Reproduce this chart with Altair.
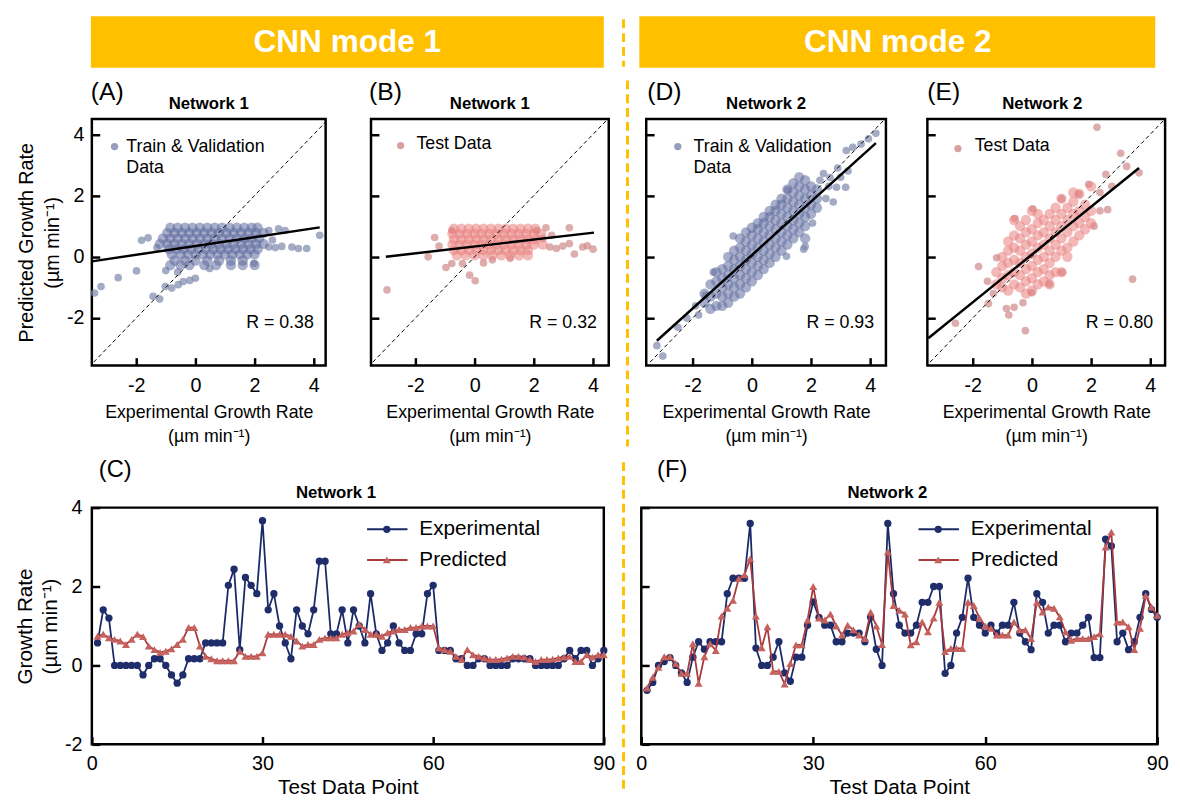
import altair as alt
import pandas as pd

FONT = "Liberation Sans"
NAVY = "#1f2d6b"
NAVY_LINE = "#1b2a66"
RED_FILL = "#c6625e"
RED_LINE = "#a8393c"
BLUE_CORE = "#5f6b9e"
BLUE_OUT = "#7d87ad"
PINK_CORE = "#e8807e"
PINK_OUT = "#cf8a8a"
GOLD = "#FFC000"

# ---------------- time-series data (panels C and F) ----------------
TEST_POINT = list(range(1, 91))
C_EXPERIMENTAL = [0.57, 1.41, 1.2, 0, 0, 0, 0, 0, -0.24, 0,
                  0.17, 0.17, 0, -0.24, -0.45, -0.24, 0.17, 0.17, 0.17, 0.57,
                  0.57, 0.57, 0.57, 2.03, 2.44, 0.4, 2.23, 2.03, 1.82, 3.67,
                  1.41, 1.82, 1.0, 0.57, 0.17, 1.41, 1.0, 0.8, 1.41, 2.64,
                  2.64, 0.8, 0.8, 1.41, 0.57, 1.41, 1.0, 0.57, 1.82, 0.8,
                  0.38, 0.57, 1.0, 0.57, 0.38, 0.38, 0.8, 0.8, 1.82, 2.03,
                  0.38, 0.38, 0.38, 0.17, 0.17, 0, 0, 0.17, 0.17, 0,
                  0, 0, 0, 0.17, 0.17, 0.17, 0.17, 0, 0, 0,
                  0, 0, 0.17, 0.38, 0.17, 0.38, 0.38, 0, 0.17, 0.38]
C_PREDICTED = [0.74, 0.79, 0.7, 0.66, 0.62, 0.53, 0.66, 0.79, 0.73, 0.49,
               0.4, 0.33, 0.36, 0.42, 0.53, 0.66, 0.96, 0.96, 0.49, 0.23,
               0.17, 0.12, 0.12, 0.12, 0.12, 0.36, 0.23, 0.23, 0.23, 0.32,
               0.79, 0.79, 0.79, 0.79, 0.74, 0.62, 0.49, 0.53, 0.53, 0.66,
               0.7, 0.7, 0.7, 0.79, 0.83, 0.87, 1.04, 0.91, 0.79, 0.79,
               0.74, 0.83, 0.87, 0.91, 0.91, 0.96, 0.96, 1.0, 1.0, 1.0,
               0.44, 0.4, 0.36, 0.23, 0.15, 0.4, 0.27, 0.23, 0.19, 0.15,
               0.15, 0.16, 0.19, 0.23, 0.23, 0.21, 0.15, 0.1, 0.15, 0.15,
               0.16, 0.19, 0.21, 0.23, 0.1, 0.1, 0.27, 0.21, 0.27, 0.27]
F_EXPERIMENTAL = [-0.63, -0.43, 0, 0.1, 0.2, 0, -0.19, -0.43, 0.21, 0.6,
                  0.41, 0.6, 0.6, 0.6, 1.82, 2.21, 2.21, 2.21, 3.6, 0.44,
                  0, 0, 0.21, 0.6, -0.19, -0.4, 0.21, 0.21, 1.02, 1.61,
                  1.22, 1.02, 1.02, 0.6, 0.6, 0.82, 0.82, 0.82, 0.6, 1.22,
                  0.41, 0, 3.6, 1.82, 1.02, 0.82, 0.82, 1.02, 1.6, 1.6,
                  2.0, 2.0, -0.2, 0, 0.82, 1.22, 2.21, 1.22, 1.02, 0.82,
                  1.02, 0.82, 1.02, 1.02, 1.6, 0.82, 0.6, 0.4, 1.82, 1.6,
                  0.82, 1.02, 1.02, 0.6, 0.82, 0.82, 1.02, 1.22, 0.2, 0.2,
                  3.2, 3.03, 0.6, 0.82, 0.4, 0.6, 1.22, 1.82, 1.42, 1.22]
F_PREDICTED = [-0.57, -0.3, -0.05, 0.22, 0.22, 0.05, -0.2, -0.2, 0.55, -0.45,
               0.22, 0.55, 0.38, 1.25, 1.45, 1.65, 2.2, 2.3, 2.7, 1.25,
               0.45, 0.98, -0.15, -0.15, -0.47, 0.05, 0.52, 0.52, 1.15, 2.0,
               1.2, 1.15, 1.3, 1.0, 0.77, 1.02, 0.9, 0.77, 0.68, 1.35,
               1.0, 0.53, 2.88, 1.52, 1.4, 1.3, 0.52, 0.6, 1.1, 0.85,
               1.2, 1.6, 0.35, 0.43, 0.43, 0.43, 1.6, 1.52, 1.2, 1.0,
               0.94, 0.77, 0.77, 0.77, 1.1, 0.9, 0.9, 0.68, 1.6, 1.35,
               1.48, 1.45, 1.23, 0.85, 0.64, 0.68, 0.68, 0.68, 0.73, 0.8,
               3.0, 3.38, 1.1, 1.1, 0.98, 0.4, 0.94, 1.77, 1.48, 1.27]

# ---------------- scatter data ----------------
# Panel A (Network 1, train & validation): dense core rows + scattered points
A_ROW_Y = [0.95, 0.78, 0.6, 0.42, 0.25, 0.08, -0.12, -0.27]
A_ROW_X = [
    [-0.85, -0.6, -0.35, -0.1, 0.15, 0.4, 0.65, 0.9, 1.15, 1.4, 1.65, 1.9, 2.1],
    [-0.95, -0.7, -0.45, -0.2, 0.05, 0.3, 0.55, 0.8, 1.05, 1.3, 1.55, 1.8, 2.05, 2.3],
    [-1.1, -0.85, -0.6, -0.35, -0.1, 0.15, 0.4, 0.65, 0.9, 1.15, 1.4, 1.65, 1.9, 2.15],
    [-1.2, -0.95, -0.7, -0.45, -0.2, 0.05, 0.3, 0.55, 0.8, 1.05, 1.3, 1.55, 1.8, 2.05, 2.3],
    [-0.9, -0.65, -0.4, -0.15, 0.1, 0.35, 0.6, 0.85, 1.1, 1.35, 1.6, 1.85, 2.1],
    [-0.8, -0.5, -0.25, 0.0, 0.25, 0.5, 0.75, 1.0, 1.25, 1.5, 1.75, 2.0],
    [-0.7, -0.35, 0.0, 0.4, 0.8, 1.2, 1.6],
    [-0.85, -0.5, -0.2, 0.3, 0.7, 1.2, 1.6, 2.0],
]
A_OUT_X = [-3.41, -3.19, -2.61, -1.99, -1.82, -1.6, -1.43, -1.21, -1.02, -0.8, -0.58, -0.41,
           -0.19, 0.0, 0.48, 1.98, 2.48, 2.81, 3.03, 2.48, 2.7, 2.92, 3.26, 3.48, 3.76, 4.2,
           2.6, -1.3, -1.0, -0.6]
A_OUT_Y = [-1.18, -0.97, -0.68, -0.46, 0.54, 0.62, -1.29, -1.38, -0.97, -1.02, -0.91, -0.81,
           -0.77, -0.7, -0.38, -0.21, 0.86, 0.91, 0.86, 0.32, 0.3, 0.34, 0.32, 0.27, 0.27, 0.7,
           0.55, 0.3, -0.45, -0.5]

# Panel B (Network 1, test)
B_ROW_Y = [0.92, 0.75, 0.57, 0.4, 0.22, 0.05]
B_ROW_X = [
    [-0.7, -0.45, -0.2, 0.05, 0.3, 0.55, 0.8, 1.05, 1.3, 1.55, 1.8, 2.05],
    [-0.75, -0.5, -0.25, 0.0, 0.25, 0.5, 0.75, 1.0, 1.25, 1.5, 1.75, 2.0, 2.25],
    [-0.7, -0.45, -0.2, 0.05, 0.3, 0.55, 0.8, 1.05, 1.3, 1.55, 1.8, 2.05],
    [-0.75, -0.5, -0.25, 0.0, 0.25, 0.5, 0.75, 1.0, 1.25, 1.5, 1.75, 2.0, 2.3],
    [-0.7, -0.45, -0.2, 0.05, 0.3, 0.55, 0.8, 1.05, 1.3, 1.55, 1.8],
    [-0.6, -0.3, 0.0, 0.3, 0.6, 0.9, 1.2, 1.5, 1.8],
]
B_OUT_X = [-2.96, -1.57, -1.35, -0.97, -0.77, -0.77, -0.41, -0.17, 0.02, 0.3, 2.1, 2.41, 3.2,
           2.54, 2.76, 3.2, 3.37, 3.65, 3.81, 4.0, 2.98, 2.3, 2.6, -1.2, 0.6, 1.2]
B_OUT_Y = [-1.08, 0.0, 0.63, -0.35, -0.22, 0.86, -0.22, -0.6, -0.78, -0.2, 0.86, 0.95, 0.95,
           0.32, 0.27, 0.43, 0.09, 0.32, 0.36, 0.25, 0.35, 0.6, 0.7, 0.35, -0.1, -0.05]

# Panel D (Network 2, train & validation): columns of the diagonal band
D_COL_X = [-1.6, -1.4, -1.2, -1.0, -0.8, -0.6, -0.4, -0.2, 0.0, 0.2, 0.4, 0.6, 0.8, 1.0,
           1.2, 1.4, 1.6, 1.8, 2.0, 2.2]
D_COL_Y = [
    [-1.5, -1.2],
    [-1.7, -1.3, -0.9],
    [-1.6, -1.2, -0.8, -0.5],
    [-1.6, -1.3, -1.0, -0.7, -0.4],
    [-1.5, -1.2, -0.9, -0.6, -0.3, 0.0],
    [-1.3, -1.0, -0.7, -0.4, -0.1, 0.2],
    [-1.2, -0.9, -0.6, -0.3, 0.0, 0.3, 0.6],
    [-1.0, -0.7, -0.4, -0.1, 0.2, 0.5, 0.8],
    [-0.8, -0.5, -0.2, 0.1, 0.4, 0.7, 0.95],
    [-0.6, -0.3, 0.0, 0.3, 0.6, 0.9, 1.1],
    [-0.4, -0.1, 0.2, 0.5, 0.8, 1.1, 1.3],
    [-0.2, 0.1, 0.4, 0.7, 1.0, 1.3, 1.5],
    [0.0, 0.3, 0.6, 0.9, 1.2, 1.5, 1.7],
    [0.2, 0.5, 0.8, 1.1, 1.4, 1.7, 1.9],
    [0.4, 0.7, 1.0, 1.3, 1.6, 1.9, 2.2],
    [0.6, 0.9, 1.2, 1.5, 1.8, 2.1, 2.4],
    [0.8, 1.1, 1.4, 1.7, 2.0, 2.3, 2.6],
    [0.6, 1.0, 1.3, 1.6, 1.9, 2.2, 2.5],
    [1.4, 1.7, 2.0, 2.3],
    [1.6, 1.9, 2.2],
]
D_OUT_X = [-3.21, -3.01, -2.5, -2.2, -1.9, -1.8, -1.57, -0.63, 1.2, 1.8, 1.75, 1.17, 2.75,
           2.86, 3.17, 4.19, 3.94, 3.69, 3.41, 3.19, 2.42, 2.64, 3.25, 2.5, 2.3, 2.9, 2.6,
           3.0, 2.05, -1.3]
D_OUT_Y = [-2.9, -3.24, -2.3, -2.0, -1.6, -1.9, -1.26, 0.68, 2.18, 0.34, 0.25, 0.02, 1.79,
           2.27, 2.27, 4.03, 3.85, 3.68, 3.57, 3.47, 2.72, 2.59, 2.8, 1.9, 2.5, 2.9, 2.3,
           2.6, 1.1, -0.5]

# Panel E (Network 2, test)
E_COL_X = [-1.2, -1.0, -0.8, -0.6, -0.4, -0.2, 0.0, 0.2, 0.4, 0.6, 0.8, 1.0, 1.2, 1.4,
           1.6, 1.8, 2.0]
E_COL_Y = [
    [-0.5, -0.9],
    [-0.3, -0.7, -1.0, 0.0],
    [-0.6, -0.2, 0.2, -1.1, 0.5],
    [-0.9, -0.5, -0.1, 0.3, 0.7, 1.2],
    [-1.0, -0.6, -0.2, 0.2, 0.6, 1.0],
    [-0.8, -0.4, 0.0, 0.4, 0.8, -1.2, 1.2],
    [-0.7, -0.3, 0.1, 0.5, 0.9, 1.5, -1.1],
    [-0.5, -0.1, 0.3, 0.7, 1.1, -0.9, 1.4],
    [-0.4, 0.0, 0.4, 0.8, 1.2, -0.8],
    [-0.2, 0.2, 0.6, 1.0, 1.4, -0.6, -0.9],
    [0.0, 0.4, 0.8, 1.2, 1.6, -0.5],
    [0.2, 0.6, 1.0, 1.4, 1.9, -0.5],
    [0.3, 0.8, 1.2, 1.6, 0.0],
    [0.5, 1.0, 1.4, 1.8, 2.1],
    [0.7, 1.1, 1.5, 2.05],
    [0.9, 1.3, 1.7],
    [1.1, 1.5, 2.3],
]
E_OUT_X = [2.2, 3.0, 3.2, 3.62, 3.4, -0.22, -0.78, -0.86, -0.6, -1.8, -1.19, -0.58, 0.03,
           1.0, 1.59, 1.92, 2.5, 2.56, 2.3, -2.58, 1.03, 0.59, 0.0, -1.47, -1.5, 2.3, 2.7,
           2.1, -0.3, -1.3]
E_OUT_Y = [4.23, 3.38, 2.95, 2.74, -0.73, -2.41, -1.9, -1.69, -1.65, -0.32, -0.03, 1.25, 1.57,
           1.89, 2.05, 2.37, 2.69, 1.54, 1.5, -2.17, -0.51, -0.89, -1.17, -1.53, -0.8, 2.1, 2.3,
           1.0, -1.5, -1.2]

# regression lines (end points) and the y = x guide
A_FIT_X, A_FIT_Y = [-3.5, 4.2], [-0.15, 0.96]
B_FIT_X, B_FIT_Y = [-3.0, 4.03], [0.0, 0.79]
D_FIT_X, D_FIT_Y = [-3.21, 4.19], [-2.74, 3.71]
E_FIT_X, E_FIT_Y = [-3.5, 3.62], [-2.66, 2.9]
DIAG = [-3.6, 4.6]

TOP_TICKS = [-2, 0, 2, 4]
TOP_YDOM = [-3.55, 4.5]
TOP_H = 250
BOT_H = 240
UNIT = "(µm min⁻¹)"


def rows_df(row_y, row_x):
    xs, ys = [], []
    for yv, xl in zip(row_y, row_x):
        for xv in xl:
            xs.append(xv)
            ys.append(yv)
    return pd.DataFrame({"x": xs, "y": ys})


def cols_df(col_x, col_y):
    xs, ys = [], []
    for xv, yl in zip(col_x, col_y):
        for yv in yl:
            xs.append(xv)
            ys.append(yv)
    return pd.DataFrame({"x": xs, "y": ys})


ONE = pd.DataFrame({"v": [0]})


def txt(x, y, s, size, weight="normal", align="left", color="black"):
    return alt.Chart(ONE).mark_text(
        align=align, baseline="middle", fontSize=size, fontWeight=weight, color=color, font=FONT
    ).encode(x=alt.value(x), y=alt.value(y), text=alt.value(s))


def pin(x1, y1, x2, y2):
    # invisible box that fixes the layout extent of a panel
    return alt.Chart(ONE).mark_rule(opacity=0, strokeWidth=0.01).encode(
        x=alt.value(x1), x2=alt.value(x2), y=alt.value(y1), y2=alt.value(y2))


def divider(x, y1, y2):
    return alt.Chart(ONE).mark_rule(color=GOLD, strokeWidth=3, strokeDash=[9, 5]).encode(
        x=alt.value(x), y=alt.value(y1), y2=alt.value(y2))


def axis(values, title, show_labels, label_pad, title_size, title_pad, title_lh):
    kw = dict(values=values, offset=-8, tickSize=8, tickWidth=2.5, tickColor="black",
              domain=False, grid=False)
    if show_labels:
        kw.update(labelFontSize=20, labelPadding=label_pad, labelColor="black", labelFont=FONT,
                  labelExpr="'' + datum.value", labelFlush=False, labelOverlap=False)
    else:
        kw.update(labels=False)
    if title is None:
        kw.update(title=None)
    else:
        kw.update(title=title, titleFontSize=title_size, titleFontWeight="normal",
                  titleColor="black", titleFont=FONT, titlePadding=title_pad,
                  titleLineHeight=title_lh)
    return alt.Axis(**kw)


def scatter_panel(core, outl, core_color, out_color, xdom, width, fit_x, fit_y, legend,
                  dot_xy, text_x, text_y, r_text, title, title_dx, letter, letter_x, show_y,
                  box, extra=()):
    xs = alt.Scale(domain=xdom, nice=False, zero=False)
    ys = alt.Scale(domain=TOP_YDOM, nice=False, zero=False)
    xa = axis(TOP_TICKS, ["Experimental Growth Rate", UNIT], True, 10, 18, 9, 24)
    if show_y:
        ya = axis(TOP_TICKS, ["Predicted Growth Rate", UNIT], True, 8, 20, 4, 26)
    else:
        ya = axis(TOP_TICKS, None, False, 0, 0, 0, 0)
    X = alt.X("x:Q", scale=xs, axis=xa)
    Y = alt.Y("y:Q", scale=ys, axis=ya)
    p_out = alt.Chart(outl).mark_circle(size=60, opacity=0.7, color=out_color).encode(x=X, y=Y)
    p_core = alt.Chart(core).mark_circle(size=110, opacity=0.55, color=core_color).encode(x=X, y=Y)
    diag = alt.Chart(pd.DataFrame({"x": DIAG, "y": DIAG})).mark_line(
        color="black", strokeWidth=1, strokeDash=[4, 3], clip=True).encode(x=X, y=Y)
    fit = alt.Chart(pd.DataFrame({"x": fit_x, "y": fit_y})).mark_line(
        color="black", strokeWidth=2.5, clip=True).encode(x=X, y=Y)
    dot = alt.Chart(ONE).mark_circle(size=55, color=out_color, opacity=0.8).encode(
        x=alt.value(dot_xy[0]), y=alt.value(dot_xy[1]))
    layers = [p_out, p_core, diag, fit, dot]
    for i, line in enumerate(legend):
        layers.append(txt(text_x, text_y + 22 * i, line, 18))
    layers.append(txt(width - 12, 207, r_text, 18, align="right"))
    layers.append(txt(width / 2 + title_dx, -15, title, 17, weight="bold", align="center"))
    layers.append(txt(letter_x, -27, letter, 25))
    layers.extend(extra)
    layers.append(pin(*box))
    return alt.layer(*layers).properties(width=width, height=TOP_H)


def series_panel(exp, pred, width, show_y, title, title_dx, letter, letter_x, leg_x, box,
                 extra=()):
    xs = alt.Scale(domain=[0, 90], nice=False, zero=False)
    ys = alt.Scale(domain=[-2, 4], nice=False, zero=False)
    xa = axis([0, 30, 60, 90], "Test Data Point", True, 10, 21, 3, 25)
    if show_y:
        ya = axis([-2, 0, 2, 4], ["Growth Rate", UNIT], True, 10, 21, 4, 25)
    else:
        ya = axis([-2, 0, 2, 4], None, False, 0, 0, 0, 0)
    X = alt.X("x:Q", scale=xs, axis=xa)
    Y = alt.Y("y:Q", scale=ys, axis=ya)
    de = pd.DataFrame({"x": TEST_POINT, "y": exp})
    dp = pd.DataFrame({"x": TEST_POINT, "y": pred})
    l1 = alt.Chart(de).mark_line(color=NAVY_LINE, strokeWidth=1.8).encode(x=X, y=Y)
    p1 = alt.Chart(de).mark_point(shape="circle", filled=True, size=55, color=NAVY,
                                  opacity=1).encode(x=X, y=Y)
    l2 = alt.Chart(dp).mark_line(color=RED_LINE, strokeWidth=1.8).encode(x=X, y=Y)
    p2 = alt.Chart(dp).mark_point(shape="triangle-up", filled=True, size=65, color=RED_FILL,
                                  opacity=1).encode(x=X, y=Y)
    leg = [
        alt.Chart(ONE).mark_rule(color=NAVY_LINE, strokeWidth=2).encode(
            x=alt.value(leg_x), x2=alt.value(leg_x + 41), y=alt.value(22)),
        alt.Chart(ONE).mark_point(shape="circle", filled=True, size=55, color=NAVY,
                                  opacity=1).encode(x=alt.value(leg_x + 20), y=alt.value(22)),
        txt(leg_x + 53, 22, "Experimental", 21),
        alt.Chart(ONE).mark_rule(color=RED_LINE, strokeWidth=2).encode(
            x=alt.value(leg_x), x2=alt.value(leg_x + 41), y=alt.value(53)),
        alt.Chart(ONE).mark_point(shape="triangle-up", filled=True, size=65, color=RED_FILL,
                                  opacity=1).encode(x=alt.value(leg_x + 20), y=alt.value(53)),
        txt(leg_x + 53, 53, "Predicted", 21),
    ]
    layers = [l1, p1, l2, p2] + leg + [
        txt(width / 2 + title_dx, -15, title, 17, weight="bold", align="center"),
        txt(letter_x, -38, letter, 24),
    ] + list(extra) + [pin(*box)]
    return alt.layer(*layers).properties(width=width, height=BOT_H)


# ---- banner row: origin at the same x as panel A ----
BANNER_W = 1078
banner_row = alt.layer(
    alt.Chart(ONE).mark_rect(color=GOLD).encode(
        x=alt.value(-1), x2=alt.value(519), y=alt.value(3), y2=alt.value(55)),
    txt(259, 29, "CNN mode 1", 32, weight="bold", align="center", color="white"),
    alt.Chart(ONE).mark_rect(color=GOLD).encode(
        x=alt.value(555), x2=alt.value(1078), y=alt.value(3), y2=alt.value(55)),
    txt(817, 29, "CNN mode 2", 32, weight="bold", align="center", color="white"),
    divider(539, 6, 54),
    pin(-83, 0, 1081, 60),
).properties(width=BANNER_W, height=60,
             view=alt.ViewBackground(stroke="transparent", strokeWidth=0))

# top-row panels: plot tops at page y 113
TOP_BOX_Y = (-45, 338)
panel_a = scatter_panel(rows_df(A_ROW_Y, A_ROW_X), pd.DataFrame({"x": A_OUT_X, "y": A_OUT_Y}),
                        BLUE_CORE, BLUE_OUT, [-3.5, 4.4], 237,
                        A_FIT_X, A_FIT_Y, ["Train & Validation", "Data"], (23, 28), 35, 28,
                        "R = 0.38", "Network 1", 0, "(A)", -1, True,
                        (-83, TOP_BOX_Y[0], 258, TOP_BOX_Y[1]))
panel_b = scatter_panel(rows_df(B_ROW_Y, B_ROW_X), pd.DataFrame({"x": B_OUT_X, "y": B_OUT_Y}),
                        PINK_CORE, PINK_OUT, [-3.5, 4.53], 241,
                        B_FIT_X, B_FIT_Y, ["Test Data"], (30, 27), 46, 25,
                        "R = 0.32", "Network 1", 0, "(B)", -2, False,
                        (-21, TOP_BOX_Y[0], 267, TOP_BOX_Y[1]),
                        extra=[divider(260, -39, 332)])
panel_d = scatter_panel(cols_df(D_COL_X, D_COL_Y), pd.DataFrame({"x": D_OUT_X, "y": D_OUT_Y}),
                        BLUE_CORE, BLUE_OUT, [-3.57, 4.53], 243,
                        D_FIT_X, D_FIT_Y, ["Train & Validation", "Data"], (32, 28), 48, 28,
                        "R = 0.93", "Network 2", 0, "(D)", 1, False,
                        (-8, TOP_BOX_Y[0], 262, TOP_BOX_Y[1]))
panel_e = scatter_panel(cols_df(E_COL_X, E_COL_Y), pd.DataFrame({"x": E_OUT_X, "y": E_OUT_Y}),
                        PINK_CORE, PINK_OUT, [-3.53, 4.5], 241,
                        E_FIT_X, E_FIT_Y, ["Test Data"], (31, 30), 48, 27,
                        "R = 0.80", "Network 2", -4, "(E)", 0, False,
                        (-19, TOP_BOX_Y[0], 246, TOP_BOX_Y[1]))

# bottom-row panels: plot tops at page y 503
BOT_BOX_Y = (-52, 294)
panel_c = series_panel(C_EXPERIMENTAL, C_PREDICTED, 519, True, "Network 1", -12, "(C)", 7, 279,
                       (-83, BOT_BOX_Y[0], 546, BOT_BOX_Y[1]), extra=[divider(539, -46, 288)])
panel_f = series_panel(F_EXPERIMENTAL, F_PREDICTED, 523, False, "Network 2", -12, "(F)", 16, 281,
                       (-7, BOT_BOX_Y[0], 528, BOT_BOX_Y[1]))

top_row = alt.hconcat(panel_a, panel_b, panel_d, panel_e, spacing=0)
bottom_row = alt.hconcat(panel_c, panel_f, spacing=0)

chart = alt.vconcat(banner_row, top_row, bottom_row, spacing=0).properties(
    padding=0
).configure(font=FONT).configure_view(stroke="black", strokeWidth=2.5)

chart.save("out.html", embed_options={"renderer": "svg", "actions": False})
